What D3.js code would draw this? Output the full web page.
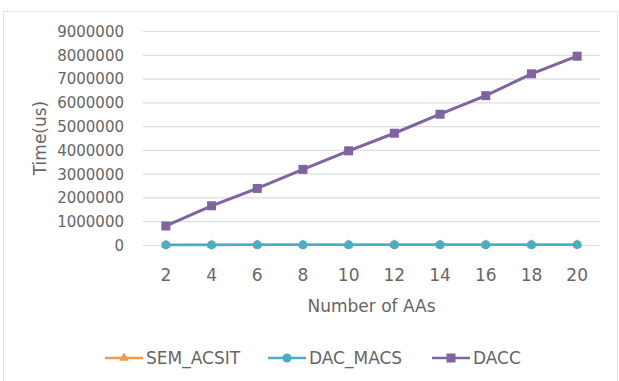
<!DOCTYPE html>
<html>
<head>
<meta charset="utf-8">
<script src="https://cdn.jsdelivr.net/npm/d3@7"></script>
<style>
  body { margin: 0; background: #fff; }
  text { font-family: "DejaVu Sans", sans-serif; fill: #666666; }
</style>
</head>
<body>
<div id="chart"></div>
<script>
// data
var xLabels = ["2", "4", "6", "8", "10", "12", "14", "16", "18", "20"];
var semAcsit = [6000, 7000, 8000, 9000, 10000, 11000, 12000, 13000, 14000, 15000];
var dacMacs = [4000, 5000, 6000, 7000, 8000, 9000, 10000, 11000, 12000, 13000];
var dacc = [800000, 1650000, 2380000, 3180000, 3960000, 4700000, 5500000, 6280000, 7200000, 7940000];
var yTicks = [0, 1000000, 2000000, 3000000, 4000000, 5000000, 6000000, 7000000, 8000000, 9000000];
var seriesNames = ["SEM_ACSIT", "DAC_MACS", "DACC"];

var W = 619, H = 381;
var margin = { top: 31, right: 19, bottom: 136, left: 143 },
  width = W - margin.left - margin.right,
  height = H - margin.top - margin.bottom;

var svg = d3.select("#chart")
  .append("svg")
  .attr("width", W)
  .attr("height", H);

// outer chart border
svg.append("rect")
  .attr("x", 3.5)
  .attr("y", 11.5)
  .attr("width", 614)
  .attr("height", 380)
  .attr("fill", "none")
  .attr("stroke", "#e3e3e3")
  .attr("stroke-width", 1);

var chart = svg.append("g")
  .attr("transform", "translate(" + margin.left + "," + margin.top + ")");

var xScale = d3.scaleBand().domain(xLabels).range([0, width]);
var yScale = d3.scaleLinear().domain([0, 9000000]).range([height, 0]);
var xc = function (i) { return xScale(xLabels[i]) + xScale.bandwidth() / 2; };

// gridlines
var grid = chart.append("g")
  .call(d3.axisLeft(yScale).tickValues(yTicks).tickSize(-width).tickFormat(""));
grid.select(".domain").remove();
grid.selectAll(".tick line").attr("stroke", "#dedede").attr("stroke-width", 1.2);

// y axis labels
var yAxis = chart.append("g")
  .attr("transform", "translate(-16,0)")
  .call(d3.axisLeft(yScale).tickValues(yTicks).tickSize(0).tickFormat(d3.format("d")));
yAxis.select(".domain").remove();
yAxis.selectAll(".tick text")
  .style("font-size", "15px")
  .attr("fill", "#666666")
  .attr("dy", "0.36em");

// x axis labels
var xAxis = chart.append("g")
  .attr("transform", "translate(0," + height + ")")
  .call(d3.axisBottom(xScale).tickSize(0));
xAxis.select(".domain").remove();
xAxis.selectAll(".tick text")
  .style("font-size", "17px")
  .attr("fill", "#666666")
  .attr("y", 36)
  .attr("dy", 0);

// axis titles
chart.append("text")
  .attr("x", width / 2)
  .attr("y", height + 67)
  .attr("text-anchor", "middle")
  .style("font-size", "17px")
  .text("Number of AAs");

chart.append("text")
  .attr("transform", "translate(" + (46 - margin.left) + "," + (138 - margin.top) + ") rotate(-90)")
  .attr("text-anchor", "middle")
  .style("font-size", "17px")
  .text("Time(us)");

var line = function (vals) {
  return d3.line()
    .x(function (d, i) { return xc(i); })
    .y(function (d) { return yScale(d); })(vals);
};

var colors = ["#f79646", "#4bacc6", "#8064a2"];
var allSeries = [semAcsit, dacMacs, dacc];

function drawMarker(g, k, x, y) {
  if (k === 0) {
    g.append("path")
      .attr("d", d3.symbol().type(d3.symbolTriangle).size(40)())
      .attr("transform", "translate(" + x + "," + y + ")")
      .attr("fill", colors[0]);
  } else if (k === 1) {
    g.append("circle").attr("cx", x).attr("cy", y).attr("r", 4.5).attr("fill", colors[1]);
  } else {
    g.append("rect").attr("x", x - 4.5).attr("y", y - 4.5)
      .attr("width", 9).attr("height", 9).attr("fill", colors[2]);
  }
}

allSeries.forEach(function (vals, k) {
  chart.append("path")
    .attr("d", line(vals))
    .attr("fill", "none")
    .attr("stroke", colors[k])
    .attr("stroke-width", k === 2 ? 3 : 2.5);
  vals.forEach(function (v, i) {
    drawMarker(chart, k, xc(i), yScale(v));
  });
});

// legend
var legendX = [105, 268, 432];
var legendY = 358;
seriesNames.forEach(function (name, k) {
  var g = svg.append("g");
  g.append("line")
    .attr("x1", legendX[k]).attr("x2", legendX[k] + 38)
    .attr("y1", legendY).attr("y2", legendY)
    .attr("stroke", colors[k]).attr("stroke-width", 2.5);
  drawMarker(g, k, legendX[k] + 19, legendY);
  g.append("text")
    .attr("x", legendX[k] + 41)
    .attr("y", legendY)
    .attr("dy", "0.36em")
    .style("font-size", "17px")
    .text(name);
});
</script>
</body>
</html>
